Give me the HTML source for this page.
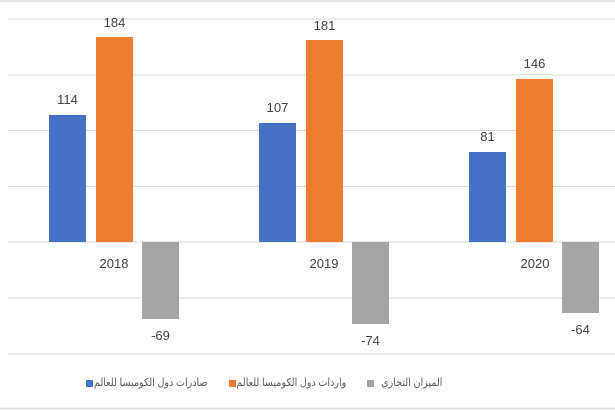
<!DOCTYPE html>
<html><head><meta charset="utf-8"><style>
body{margin:0;width:615px;height:410px;overflow:hidden;background:#fff;position:relative}
.lg{position:absolute;top:376px;font:11px "Liberation Sans","DejaVu Sans",sans-serif;color:#595959;direction:rtl;white-space:nowrap;line-height:14px;transform:scaleX(0.87);transform-origin:right center}
.sq{position:absolute;top:380px;width:7px;height:7px}
</style></head><body>
<svg width="615" height="410" xmlns="http://www.w3.org/2000/svg" font-family="Liberation Sans, sans-serif" style="position:absolute;left:0;top:0">
<rect x="0" y="0" width="615" height="410" fill="#fff"/>
<line x1="0" y1="1" x2="615" y2="1" stroke="#d9d9d9" stroke-width="1.5"/>
<line x1="0" y1="408.5" x2="615" y2="408.5" stroke="#d9d9d9" stroke-width="1.5"/>
<g stroke="#d9d9d9" stroke-width="1">
<line x1="8" y1="19" x2="615" y2="19"/>
<line x1="8" y1="75" x2="615" y2="75"/>
<line x1="8" y1="130.5" x2="615" y2="130.5"/>
<line x1="8" y1="186.5" x2="615" y2="186.5"/>
<line x1="8" y1="298" x2="615" y2="298"/>
<line x1="8" y1="354" x2="615" y2="354"/>
<line x1="8" y1="242" x2="615" y2="242"/>
</g>
<g>
<rect x="49" y="115" width="37" height="127" fill="#4472c4"/>
<rect x="96" y="37" width="37" height="205" fill="#ed7d31"/>
<rect x="142" y="242" width="37" height="77" fill="#a5a5a5"/>
<rect x="259" y="123" width="37" height="119" fill="#4472c4"/>
<rect x="306" y="40" width="37" height="202" fill="#ed7d31"/>
<rect x="352" y="242" width="37" height="82" fill="#a5a5a5"/>
<rect x="469" y="152" width="37" height="90" fill="#4472c4"/>
<rect x="516" y="79" width="37" height="163" fill="#ed7d31"/>
<rect x="562" y="242" width="37" height="71" fill="#a5a5a5"/>
</g>
<g font-size="13" fill="#404040" text-anchor="middle">
<text x="67.5" y="104">114</text>
<text x="114.5" y="27">184</text>
<text x="160.5" y="340">-69</text>
<text x="277.5" y="112">107</text>
<text x="324.5" y="30">181</text>
<text x="370.5" y="345">-74</text>
<text x="487.5" y="141">81</text>
<text x="534.5" y="68">146</text>
<text x="580.5" y="334">-64</text>
<text x="114" y="268">2018</text>
<text x="324" y="268">2019</text>
<text x="535" y="268">2020</text>
</g>
</svg>
<div class="sq" style="left:367px;background:#a5a5a5"></div>
<div class="lg" style="right:173px">الميزان التجاري</div>
<div class="sq" style="left:229px;background:#ed7d31"></div>
<div class="lg" style="right:269px">واردات دول الكوميسا للعالم</div>
<div class="sq" style="left:86px;background:#4472c4"></div>
<div class="lg" style="right:407px">صادرات دول الكوميسا للعالم</div>
</body></html>
